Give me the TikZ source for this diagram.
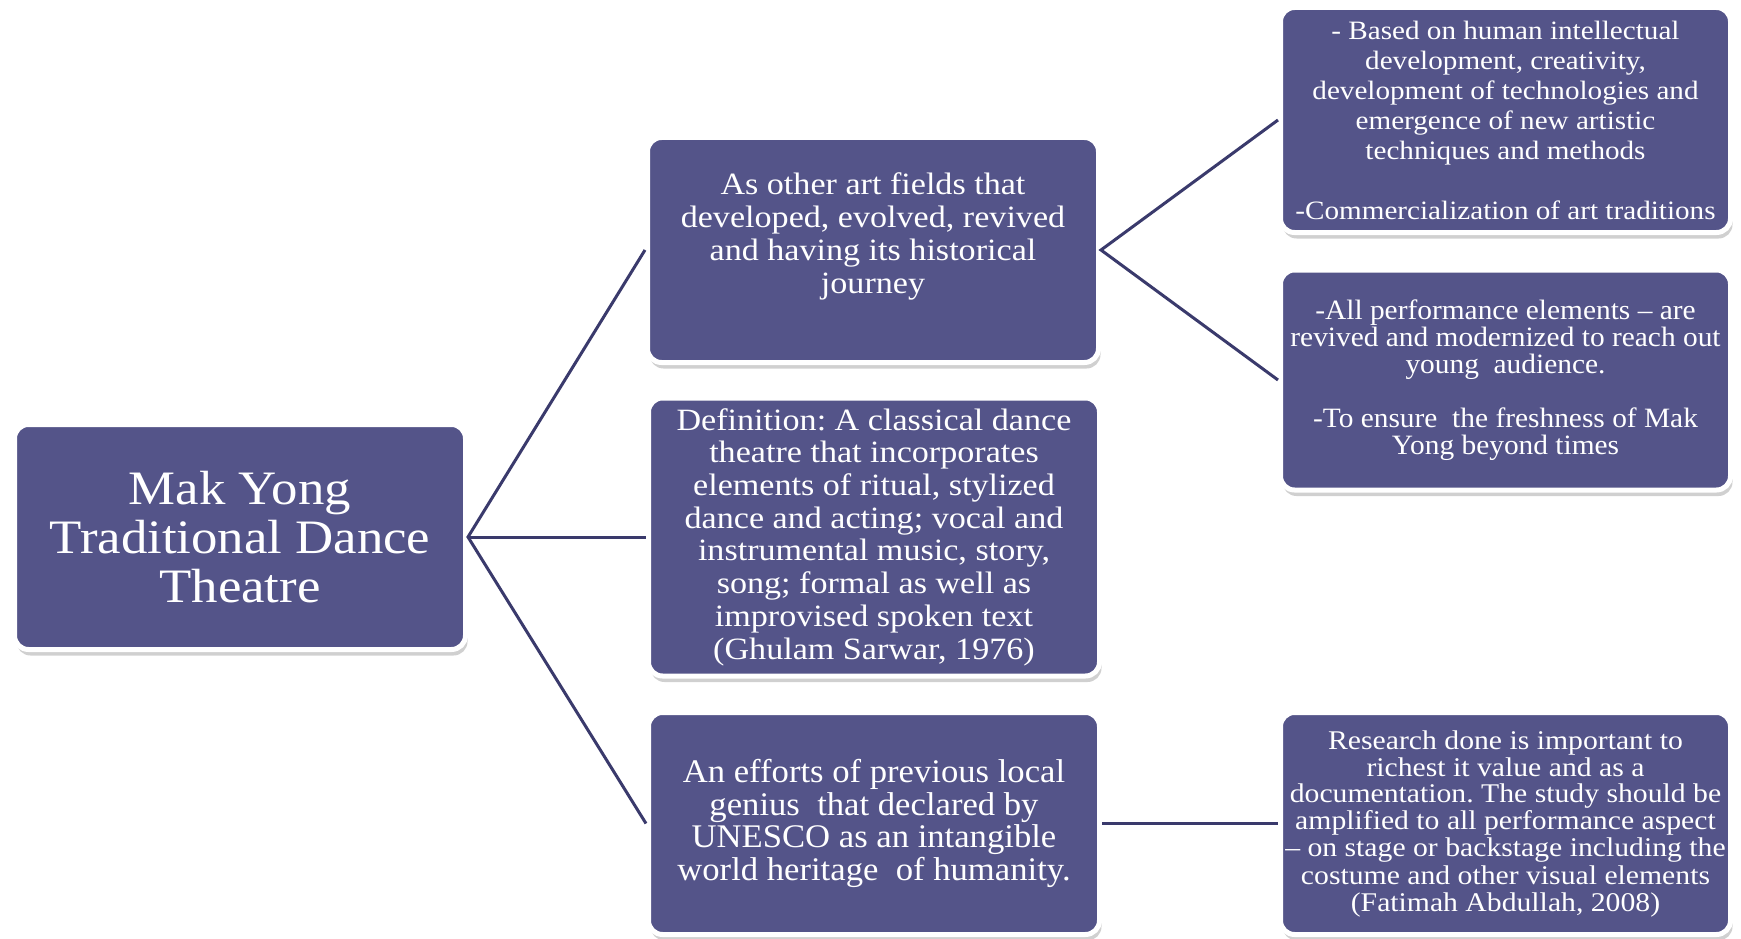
\documentclass[tikz,border=0pt]{standalone}
\usepackage{fontspec}
\setmainfont[FakeStretch=1.1,Ligatures=TeX]{Liberation Serif}
\newfontfamily\condfont[FakeStretch=1.05,Ligatures=TeX]{Liberation Serif}
\usetikzlibrary{shadows}
\definecolor{boxfill}{RGB}{84,84,137}
\definecolor{linkcol}{RGB}{58,58,108}
\frenchspacing
\begin{document}
\begin{tikzpicture}[x=1pt,y=-1pt,
  box/.style={draw=white, line width=5pt, fill=boxfill, rounded corners=14pt,
    text=white, align=center, inner sep=0pt,
    drop shadow={shadow xshift=2pt, shadow yshift=-6pt, opacity=0.3, fill=black!60}},
  link/.style={draw=linkcol, line width=3pt}]
\useasboundingbox (0,0) rectangle (1741,939);
\fill[white] (0,0) rectangle (1741,939);

\node[box, minimum width=451pt, minimum height=225pt, font=\fontsize{48}{49}\selectfont]
  (root) at (240,537) {Mak Yong\\Traditional Dance\\Theatre};

\node[box, minimum width=451pt, minimum height=225pt, font=\fontsize{31}{33}\selectfont]
  (m1) at (873,250) {As other art fields that\\developed, evolved, revived\\and having its historical\\journey\\~};
\node[box, minimum width=451pt, minimum height=278pt, font=\fontsize{31}{32.7}\selectfont]
  (m2) at (874,537) {Definition: A classical dance\\theatre that incorporates\\elements of ritual, stylized\\dance and acting; vocal and\\instrumental music, story,\\song; formal as well as\\improvised spoken text\\(Ghulam Sarwar, 1976)};
\node[box, minimum width=451pt, minimum height=222pt, font={\condfont\fontsize{33}{32.7}\selectfont}]
  (m3) at (874,823.5) {An efforts of previous local\\genius\ \ that declared by\\UNESCO as an intangible\\world heritage\ \ of humanity.};

\node[box, minimum width=450pt, minimum height=225pt, font=\fontsize{26.5}{30}\selectfont]
  (r1) at (1505.5,120) {- Based on human intellectual\\development, creativity,\\development of technologies and\\emergence of new artistic\\techniques and methods\\~\\-Commercialization of art traditions};
\node[box, minimum width=450pt, minimum height=220pt, font={\condfont\fontsize{28}{27}\selectfont}]
  (r2) at (1505.5,380) {-All performance elements \textendash{} are\\revived and modernized to reach out\\young\ \ audience.\\~\\-To ensure\ \ the freshness of Mak\\Yong beyond times};
\node[box, minimum width=450pt, minimum height=222pt, font=\fontsize{27}{27}\selectfont]
  (r3) at (1505.5,823.5) {Research done is important to\\richest it value and as a\\documentation. The study should be\\amplified to all performance aspect\\\textendash{} on stage or backstage including the\\costume and other visual elements\\(Fatimah Abdullah, 2008)};

\draw[link] (m1.west) -- (root.east) -- (m3.west);
\draw[link] (root.east) -- (m2.west);
\draw[link] (r1.west) -- (m1.east) -- (r2.west);
\draw[link] (m3.east) -- (r3.west);
\end{tikzpicture}
\end{document}
